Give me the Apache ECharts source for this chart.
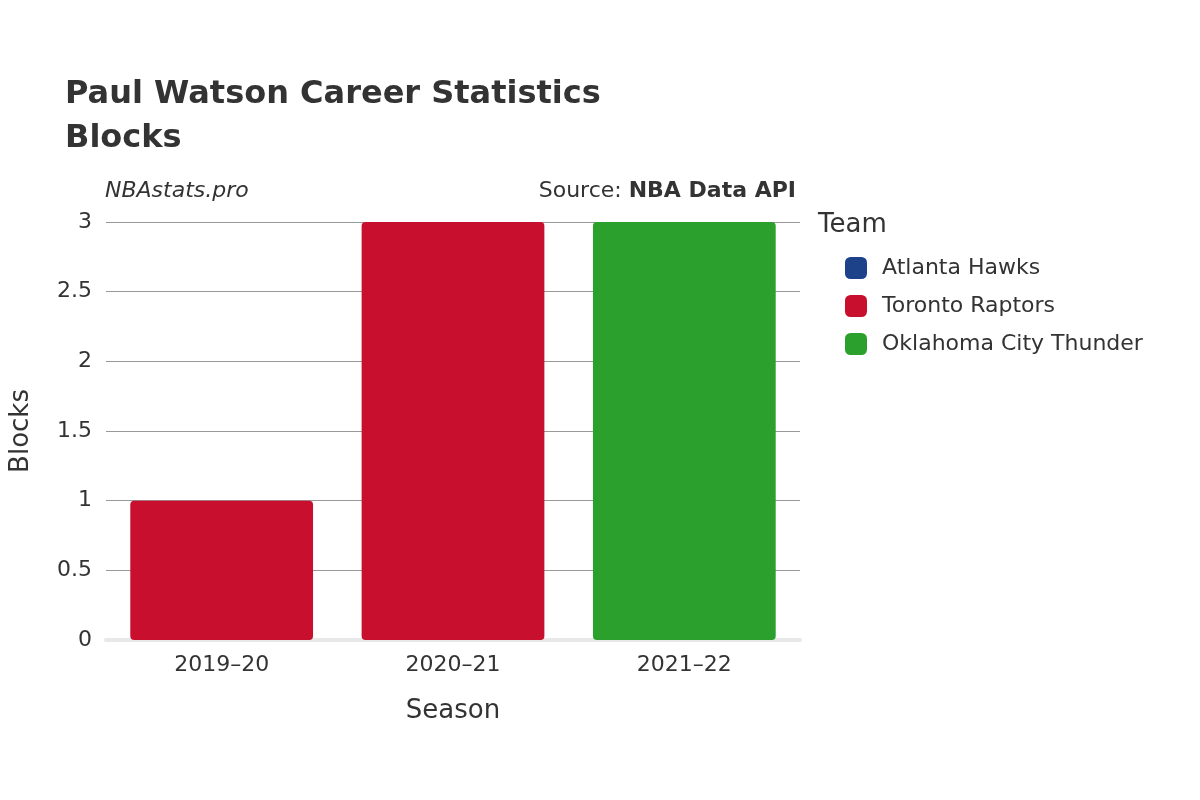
<!DOCTYPE html>
<html><head><meta charset="utf-8">
<script src="https://cdn.jsdelivr.net/npm/echarts@6/dist/echarts.min.js"></script>
<style>html,body{margin:0;padding:0;background:#fff}#c{width:1200px;height:800px}</style>
</head><body><div id="c"></div>
<script>
const seasons = ['2019–20', '2020–21', '2021–22'];
const teams = ['Atlanta Hawks', 'Toronto Raptors', 'Oklahoma City Thunder'];
const colors = ['#1d428a', '#c8102e', '#2ca02c'];
const hawks = [null, null, null];
const raptors = [1, 3, null];
const thunder = [null, null, 3];
const yTicks = [0, 0.5, 1, 1.5, 2, 2.5, 3];

const F = 'DejaVu Sans';
const chart = echarts.init(document.getElementById('c'));
const mk = (name, data, color) => ({
  name, type: 'bar', stack: 'a', data, barWidth: '79%',
  itemStyle: { color, borderRadius: 4 }
});
chart.setOption({
  animation: false,
  textStyle: { fontFamily: F },
  title: {
    left: 60, top: 68,
    text: '{b|Paul Watson} Career Statistics\nBlocks',
    textStyle: { fontFamily: F, fontSize: 32, color: '#333', lineHeight: 44,
      rich: { b: { fontFamily: F, fontSize: 32, fontWeight: 'bold', color: '#333' } } }
  },
  legend: {
    orient: 'vertical', left: 840, top: 252, itemWidth: 22, itemHeight: 22,
    itemGap: 16, icon: 'roundRect',
    textStyle: { fontFamily: F, fontSize: 22, color: '#333', padding: [0, 0, 0, 10] },
    data: teams
  },
  graphic: [
    { type: 'text', left: 818, top: 212, style: { text: 'Team', font: '26px "DejaVu Sans"', fill: '#333' } },
    { type: 'text', left: 105, top: 180, style: { text: 'NBAstats.pro', font: 'italic 22px "DejaVu Sans"', fill: '#333' } },
    { type: 'text', right: 404, top: 180, style: {
      text: '{n|Source: }{b|NBA Data API}',
      rich: { n: { font: '22px "DejaVu Sans"', fill: '#333' }, b: { font: 'bold 22px "DejaVu Sans"', fill: '#333' } } } }
  ],
  grid: { left: 100, right: 400, top: 222, bottom: 160 },
  xAxis: {
    type: 'category', data: seasons, name: 'Season', nameLocation: 'middle', nameGap: 58,
    nameTextStyle: { fontFamily: F, fontSize: 26, color: '#333' },
    axisLine: { lineStyle: { color: '#e8e8e8', width: 4 } }, axisTick: { show: false },
    axisLabel: { fontFamily: F, fontSize: 22, color: '#333', margin: 14 }
  },
  yAxis: {
    type: 'value', min: 0, max: 3, interval: 0.5, name: 'Blocks', nameLocation: 'middle', nameGap: 72,
    nameTextStyle: { fontFamily: F, fontSize: 26, color: '#333' },
    axisLabel: { fontFamily: F, fontSize: 22, color: '#333', margin: 14 },
    splitLine: { lineStyle: { color: '#999', width: 1 } }
  },
  series: [mk(teams[0], hawks, colors[0]), mk(teams[1], raptors, colors[1]), mk(teams[2], thunder, colors[2])]
});
</script></body></html>
